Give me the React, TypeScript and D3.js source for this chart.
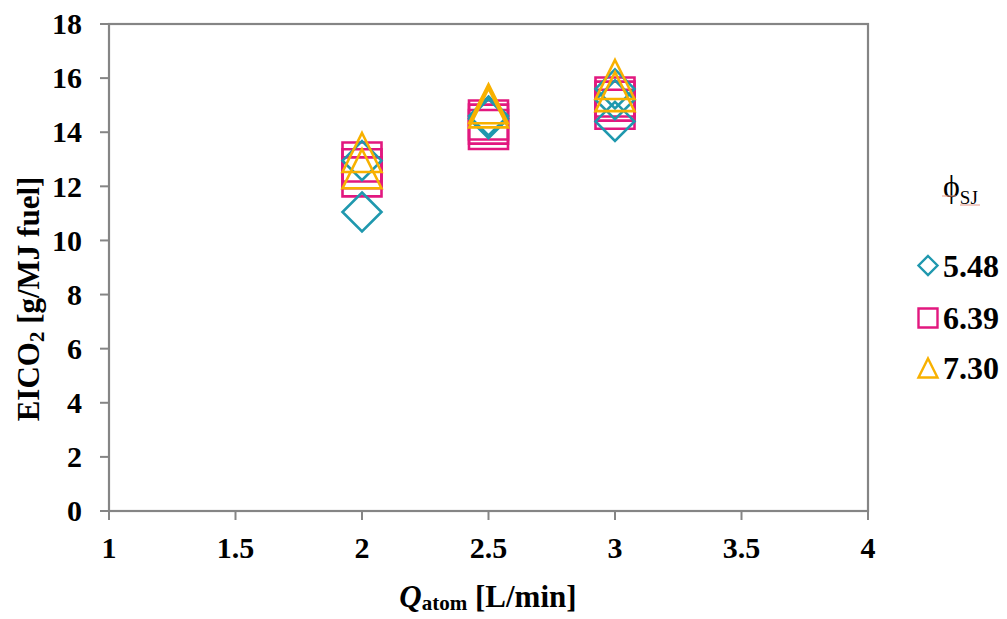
import React from "react";
import * as d3 from "d3";

// EICO2 emission index versus atomizing air flow, grouped by swirl-jet equivalence ratio
const xTicks = [1, 1.5, 2, 2.5, 3, 3.5, 4];
const yTicks = [0, 2, 4, 6, 8, 10, 12, 14, 16, 18];

const seriesNames = ["5.48", "6.39", "7.30"];

const phi548X = [2, 2, 2.5, 2.5, 3, 3, 3];
const phi548Y = [11.05, 12.95, 14.5, 14.6, 14.4, 15.2, 15.6];

const phi639X = [2, 2, 2, 2.5, 2.5, 2.5, 3, 3, 3];
const phi639Y = [12.9, 12.65, 12.35, 14.45, 14.3, 14.1, 15.3, 15.15, 14.85];

const phi730X = [2, 2, 2.5, 2.5, 3, 3];
const phi730Y = [13.25, 12.65, 15.05, 14.9, 15.95, 15.5];

const W = 1007;
const H = 619;
const M = { left: 109, right: 868, top: 24, bottom: 511 };

const CYAN = "#1f98ae";
const PINK = "#e2187f";
const GOLD = "#f8b100";
const AXIS = "#858585";
const FONT = "'Liberation Serif', 'Times New Roman', serif";

type Shape = "diamond" | "square" | "triangle";

function markerPath(shape: Shape, cx: number, cy: number, s: number): string {
  const h = s / 2;
  const p = d3.path();
  if (shape === "diamond") {
    p.moveTo(cx, cy - h);
    p.lineTo(cx + h, cy);
    p.lineTo(cx, cy + h);
    p.lineTo(cx - h, cy);
    p.closePath();
  } else if (shape === "square") {
    p.rect(cx - h, cy - h, s, s);
  } else {
    p.moveTo(cx, cy - h);
    p.lineTo(cx + h, cy + h);
    p.lineTo(cx - h, cy + h);
    p.closePath();
  }
  return p.toString();
}

export default function App() {
  const x = d3.scaleLinear().domain([1, 4]).range([M.left, M.right]);
  const y = d3.scaleLinear().domain([0, 18]).range([M.bottom, M.top]);

  const series: { name: string; xs: number[]; ys: number[]; shape: Shape; color: string }[] = [
    { name: seriesNames[1], xs: phi639X, ys: phi639Y, shape: "square", color: PINK },
    { name: seriesNames[0], xs: phi548X, ys: phi548Y, shape: "diamond", color: CYAN },
    { name: seriesNames[2], xs: phi730X, ys: phi730Y, shape: "triangle", color: GOLD },
  ];

  const legend: { name: string; shape: Shape; color: string; cy: number }[] = [
    { name: seriesNames[0], shape: "diamond", color: CYAN, cy: 265.5 },
    { name: seriesNames[1], shape: "square", color: PINK, cy: 318 },
    { name: seriesNames[2], shape: "triangle", color: GOLD, cy: 368 },
  ];

  const markerSize = 39;

  return (
    <svg
      width={W}
      height={H}
      style={{ position: "absolute", left: 0, top: 0, background: "#fff" }}
      fontFamily={FONT}
    >
      <rect x={0} y={0} width={W} height={H} fill="#fff" />

      {/* plot frame */}
      <rect
        x={M.left}
        y={M.top}
        width={M.right - M.left}
        height={M.bottom - M.top}
        fill="none"
        stroke={AXIS}
        strokeWidth={2.2}
      />

      {/* y axis ticks and labels */}
      {yTicks.map((t) => (
        <g key={"y" + t}>
          <line x1={M.left - 9} x2={M.left} y1={y(t)} y2={y(t)} stroke={AXIS} strokeWidth={2} />
          <text
            x={M.left - 27}
            y={y(t)}
            dy="0.34em"
            textAnchor="end"
            fontSize={30}
            fontWeight="bold"
            fill="#000"
          >
            {t}
          </text>
        </g>
      ))}

      {/* x axis ticks and labels */}
      {xTicks.map((t) => (
        <g key={"x" + t}>
          <line x1={x(t)} x2={x(t)} y1={M.bottom} y2={M.bottom + 9} stroke={AXIS} strokeWidth={2} />
          <text
            x={x(t)}
            y={558}
            textAnchor="middle"
            fontSize={30}
            fontWeight="bold"
            fill="#000"
          >
            {t}
          </text>
        </g>
      ))}

      {/* axis titles */}
      <text x={488} y={607} textAnchor="middle" fontSize={31} fontWeight="bold" fill="#000">
        <tspan fontStyle="italic">Q</tspan>
        <tspan fontSize={21} dy={3}>atom</tspan>
        <tspan dy={-3}> [L/min]</tspan>
      </text>
      <text
        transform="translate(39,299) rotate(-90)"
        textAnchor="middle"
        fontSize={31}
        fontWeight="bold"
        fill="#000"
      >
        <tspan>EICO</tspan>
        <tspan fontSize={21} dy={5}>2</tspan>
        <tspan dy={-5}> [g/MJ fuel]</tspan>
      </text>

      {/* data markers */}
      {series.map((s) =>
        s.xs.map((xv, i) => (
          <path
            key={s.name + i}
            d={markerPath(s.shape, x(xv), y(s.ys[i]), markerSize)}
            fill="none"
            stroke={s.color}
            strokeWidth={2.6}
          />
        ))
      )}

      {/* legend */}
      <text x={943} y={197} fontSize={32} fill="#000">
        <tspan>ϕ</tspan>
        <tspan fontSize={19} dy={7}>SJ</tspan>
      </text>
      <line x1={942} x2={956} y1={196} y2={196} stroke="#e79a8a" strokeWidth={1} />
      <line x1={960} x2={980} y1={205} y2={205} stroke="#e79a8a" strokeWidth={1} />
      {legend.map((l) => (
        <g key={"lg" + l.name}>
          <path d={markerPath(l.shape, 928, l.cy, 19)} fill="none" stroke={l.color} strokeWidth={2.4} />
          <text x={943} y={l.cy + 11} fontSize={32} fontWeight="bold" fill="#000">
            {l.name}
          </text>
        </g>
      ))}
    </svg>
  );
}
